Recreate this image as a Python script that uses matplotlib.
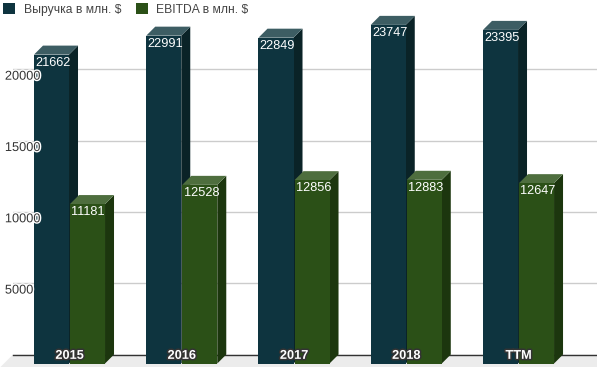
import matplotlib
matplotlib.use('Agg')
import matplotlib.pyplot as plt
import matplotlib.patheffects as pe
from matplotlib.patches import Polygon, Rectangle

#---    Data
categories = ['2015', '2016', '2017', '2018', 'TTM']
revenue = [21662, 22991, 22849, 23747, 23395]
ebitda = [11181, 12528, 12856, 12883, 12647]
series_names = ['Выручка в млн. $', 'EBITDA в млн. $']
yticks = [5000, 10000, 15000, 20000]

#---    Styles
plt.rcParams['font.family'] = ['Liberation Sans', 'DejaVu Sans']
fs = 9.2
fs_leg = 8.7
rev_cols = ('#0e343f', '#3d5d63', '#0a2327')      # front, top, side
ebt_cols = ('#2b5017', '#4e6e3e', '#1c360e')
depth_px = 9
bar_w = 0.312
off = 0.1604

fig = plt.figure(figsize=(5.97, 3.67), dpi=100)
ax = fig.add_axes([13/597, 12.5/367, 584/597, 354.5/367])
ax.set_xlim(-0.5835, 4.619)
ax.set_ylim(0, 24860)
ax.axis('off')

#---    3D depth in data units
inv = ax.transData.inverted()
p0 = inv.transform((0, 0))
p1 = inv.transform((depth_px, depth_px))
dx, dy = p1[0] - p0[0], p1[1] - p0[1]

#---    Floor and grid
x0, x1 = ax.get_xlim()
floor = Polygon([(x0, 0), (x1 + 1, 0), (x1 + 1 - 2*dx, -2*dy), (x0 - 2*dx, -2*dy)],
                closed=True, facecolor='#ececec', edgecolor='none', clip_on=False, zorder=0)
ax.add_patch(floor)
for t in yticks:
    ax.plot([x0, x1], [t, t], color='#cccccc', linewidth=1, zorder=1)
ax.plot([x0, x1], [0, 0], color='#333333', linewidth=1, zorder=1, clip_on=False)

#---    Bars
def bar3d(xc, v, cols):
    xl, xr = xc - bar_w/2, xc + bar_w/2
    front = Rectangle((xl - dx, -dy), bar_w, v, facecolor=cols[0], edgecolor='none', clip_on=False, zorder=3)
    top = Polygon([(xl - dx, v - dy), (xr - dx, v - dy), (xr, v), (xl, v)],
                  facecolor=cols[1], edgecolor='none', clip_on=False, zorder=3)
    side = Polygon([(xr - dx, -dy), (xr - dx, v - dy), (xr, v), (xr, 0)],
                   facecolor=cols[2], edgecolor='none', clip_on=False, zorder=3)
    for p in (side, top, front):
        ax.add_patch(p)
    ax.text(xl - dx + 0.012, v - dy - 150, str(v), color='white', fontsize=fs,
            ha='left', va='top', zorder=6)

for i in range(len(categories)):
    bar3d(i - off, revenue[i], rev_cols)
    bar3d(i + off, ebitda[i], ebt_cols)

#---    Category labels
outline = [pe.withStroke(linewidth=2.2, foreground='#333333')]
for i, c in enumerate(categories):
    ax.text(i - dx, -dy*0.15, c, color='white', fontsize=fs, fontweight='bold',
            ha='center', va='center', zorder=7, path_effects=outline, clip_on=False)

#---    Y labels
halo = [pe.withStroke(linewidth=2, foreground='white')]
for t in yticks:
    ax.text(x0 - dx*0.9, t - dy*0.82, str(t), color='#333333', fontsize=fs,
            ha='left', va='center', zorder=7, path_effects=halo, clip_on=False)

#---    Legend
handles = [Rectangle((0, 0), 1, 1, facecolor=rev_cols[0]), Rectangle((0, 0), 1, 1, facecolor=ebt_cols[0])]
fig.legend(handles, series_names, loc='upper left', bbox_to_anchor=(0, 1), ncol=2,
           frameon=False, fontsize=fs_leg, handlelength=1.0, handleheight=1.0,
           handletextpad=0.7, columnspacing=1.2, borderaxespad=0.15, borderpad=0.1,
           labelcolor='#444444')

fig.savefig('out.png', dpi=100)
